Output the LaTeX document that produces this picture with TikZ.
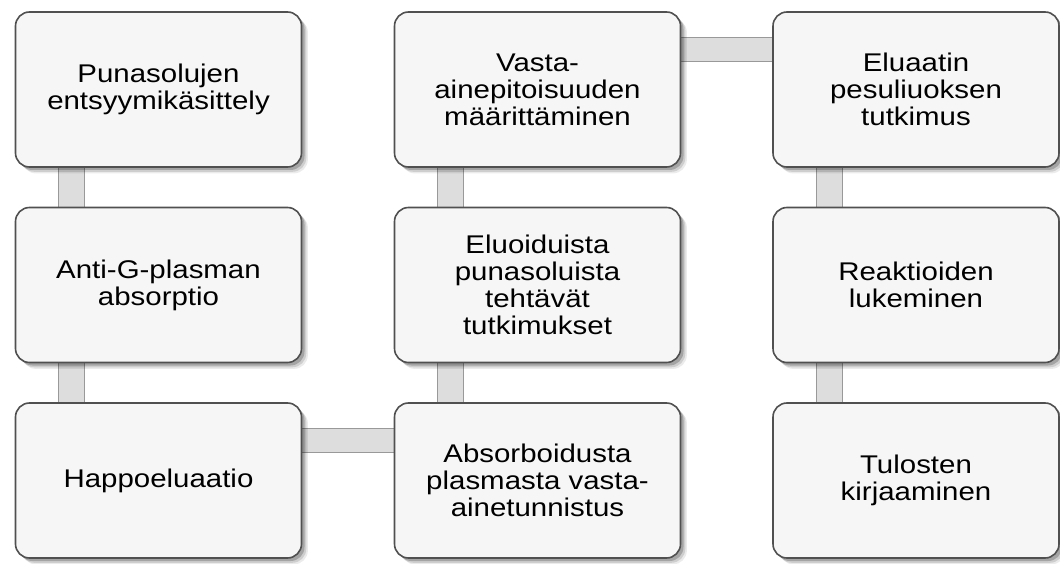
\documentclass[tikz,border=0pt]{standalone}
\usepackage{fontspec}
\setmainfont{Liberation Sans}[FakeStretch=1.15]
\usetikzlibrary{shadows,calc,backgrounds}
\definecolor{boxgrey}{RGB}{246,246,246}
\definecolor{edgegrey}{RGB}{80,80,80}
\definecolor{bargrey}{RGB}{221,221,221}

\begin{document}
\begin{tikzpicture}[x=0.5pt,y=0.5pt,
    stepbox/.style={draw=edgegrey, line width=0.8pt, fill=boxgrey, rounded corners=7pt,
        minimum width=143pt, minimum height=77.5pt, align=center,
        font=\fontsize{12.8}{13.5}\selectfont,
        drop shadow={shadow xshift=3.2pt, shadow yshift=-3.2pt, fill=black, opacity=0.08},
        drop shadow={shadow xshift=2.4pt, shadow yshift=-2.4pt, fill=black, opacity=0.12},
        drop shadow={shadow xshift=1.5pt, shadow yshift=-1.5pt, fill=black, opacity=0.2}},
    linkbar/.style={fill=bargrey, draw=black!40, line width=0.4pt}]
    \useasboundingbox (0,0) rectangle (1060,563);

    % Left column
    \node[stepbox] (punasolut) at (158.5,473.5) {Punasolujen\\entsyymikäsittely};
    \node[stepbox] (antig) at (158.5,278) {Anti-G-plasman\\absorptio};
    \node[stepbox] (happo) at (158.5,82.5) {Happoeluaatio};
    % Middle column
    \node[stepbox] (absorb) at (537.5,82.5) {Absorboidusta\\plasmasta vasta-\\ainetunnistus};
    \node[stepbox] (eluoid) at (537.5,278) {Eluoiduista\\punasoluista\\tehtävät\\tutkimukset};
    \node[stepbox] (vasta) at (537.5,473.5) {Vasta-\\ainepitoisuuden\\määrittäminen};
    % Right column
    \node[stepbox] (eluaatti) at (916,473.5) {Eluaatin\\pesuliuoksen\\tutkimus};
    \node[stepbox] (reakt) at (916,278) {Reaktioiden\\lukeminen};
    \node[stepbox] (tulos) at (916,82.5) {Tulosten\\kirjaaminen};

    % Connecting bars behind the boxes
    \begin{pgfonlayer}{background}
        \fill[white] (0,0) rectangle (1060,563);
        \foreach \upper/\lower in {punasolut/antig, antig/happo, vasta/eluoid,
                                   eluoid/absorb, eluaatti/reakt, reakt/tulos} {
            \draw[linkbar] ($(\upper.south west)+(44,6)$) rectangle ($(\lower.north west)+(70,-6)$);
        }
        \draw[linkbar] ($(happo.north east)+(-6,-26)$) rectangle ($(absorb.north west)+(6,-50)$);
        \draw[linkbar] ($(vasta.north east)+(-6,-26)$) rectangle ($(eluaatti.north west)+(6,-50)$);
    \end{pgfonlayer}
\end{tikzpicture}
\end{document}
